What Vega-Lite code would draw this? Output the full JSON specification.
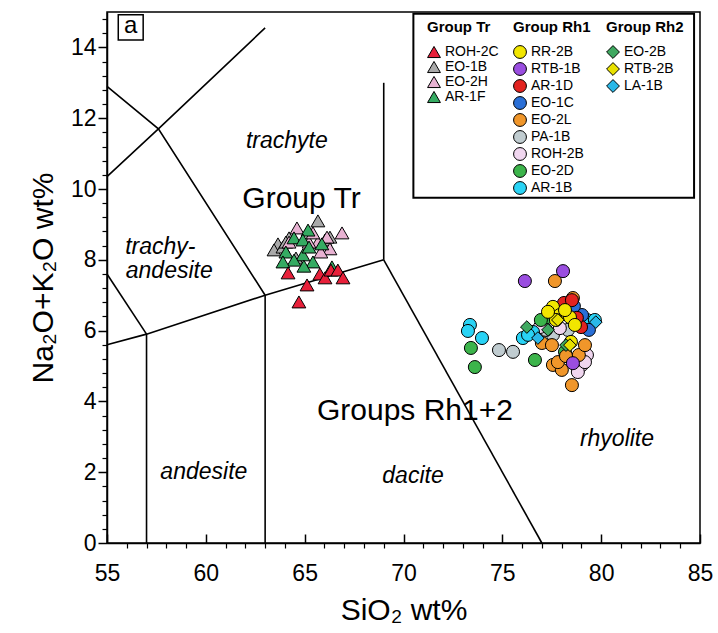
{
  "$schema": "https://vega.github.io/schema/vega-lite/v6.json",
  "width": 593,
  "height": 531,
  "autosize": {"type": "none"},
  "padding": {"left": 107, "top": 12, "right": 18, "bottom": 90},
  "background": "white",
  "config": {
    "view": {"stroke": "black", "strokeWidth": 1.5},
    "font": "Liberation Sans",
    "axis": {
      "labelFont": "Liberation Sans",
      "titleFont": "Liberation Sans",
      "labelColor": "black",
      "titleColor": "black",
      "tickColor": "black",
      "domainColor": "black",
      "grid": false,
      "labelFlush": false,
      "titleFontWeight": "normal"
    },
    "legend": {
      "titleFont": "Liberation Sans",
      "labelFont": "Liberation Sans",
      "titleFontSize": 15,
      "titleFontWeight": "bold",
      "titleColor": "black",
      "labelFontSize": 14,
      "labelColor": "black",
      "symbolSize": 165,
      "symbolStrokeColor": "black",
      "symbolStrokeWidth": 1,
      "symbolOpacity": 1,
      "titlePadding": 10,
      "labelOffset": 4,
      "padding": 0
    }
  },
  "datasets": {
    "boundaries": [
      {"seg": "s1", "i": 1, "sio2": 55, "alk": 5.6},
      {"seg": "s1", "i": 2, "sio2": 57, "alk": 5.9},
      {"seg": "s1", "i": 3, "sio2": 63, "alk": 7},
      {"seg": "s1", "i": 4, "sio2": 69, "alk": 8},
      {"seg": "s2", "i": 1, "sio2": 57, "alk": 0},
      {"seg": "s2", "i": 2, "sio2": 57, "alk": 5.9},
      {"seg": "s3", "i": 1, "sio2": 63, "alk": 0},
      {"seg": "s3", "i": 2, "sio2": 63, "alk": 7},
      {"seg": "s4", "i": 1, "sio2": 69, "alk": 8},
      {"seg": "s4", "i": 2, "sio2": 69, "alk": 13},
      {"seg": "s5", "i": 1, "sio2": 69, "alk": 8},
      {"seg": "s5", "i": 2, "sio2": 77, "alk": 0},
      {"seg": "s6", "i": 1, "sio2": 55, "alk": 7.6},
      {"seg": "s6", "i": 2, "sio2": 57, "alk": 5.9},
      {"seg": "s7", "i": 1, "sio2": 55, "alk": 12.9},
      {"seg": "s7", "i": 2, "sio2": 57.6, "alk": 11.7},
      {"seg": "s7", "i": 3, "sio2": 63, "alk": 7},
      {"seg": "s8", "i": 1, "sio2": 55, "alk": 10.35},
      {"seg": "s8", "i": 2, "sio2": 57.6, "alk": 11.7},
      {"seg": "s8", "i": 3, "sio2": 63, "alk": 14.55}
    ],
    "fieldNames": [
      {"name": "trachyte", "sio2": 64.1, "alk": 11.37},
      {"name": "trachy-", "sio2": 57.7, "alk": 8.35},
      {"name": "andesite", "sio2": 58.15, "alk": 7.69},
      {"name": "andesite", "sio2": 59.9, "alk": 2.0},
      {"name": "dacite", "sio2": 70.48, "alk": 1.89},
      {"name": "rhyolite", "sio2": 80.8, "alk": 2.93}
    ],
    "groupNames": [
      {"name": "Group Tr", "sio2": 64.84, "alk": 9.72},
      {"name": "Groups Rh1+2", "sio2": 70.58, "alk": 3.74}
    ],
    "groupTr": [
      {"sample": "EO-1B", "sio2": 65.67, "alk": 9.1},
      {"sample": "EO-1B", "sio2": 63.65, "alk": 8.45},
      {"sample": "EO-1B", "sio2": 63.45, "alk": 8.28},
      {"sample": "EO-1B", "sio2": 64.21, "alk": 8.62},
      {"sample": "EO-1B", "sio2": 63.9, "alk": 8.36},
      {"sample": "EO-1B", "sio2": 64.56, "alk": 8.05},
      {"sample": "EO-1B", "sio2": 66.03, "alk": 8.56},
      {"sample": "EO-1B", "sio2": 66.28, "alk": 8.64},
      {"sample": "EO-1B", "sio2": 64.05, "alk": 8.5},
      {"sample": "EO-2H", "sio2": 64.61, "alk": 8.9},
      {"sample": "EO-2H", "sio2": 66.89, "alk": 8.76},
      {"sample": "EO-2H", "sio2": 66.13, "alk": 8.64},
      {"sample": "EO-2H", "sio2": 65.67, "alk": 8.5},
      {"sample": "EO-2H", "sio2": 66.28, "alk": 8.31},
      {"sample": "EO-2H", "sio2": 64.21, "alk": 8.5},
      {"sample": "EO-2H", "sio2": 65.82, "alk": 8.22},
      {"sample": "EO-2H", "sio2": 65.22, "alk": 8.5},
      {"sample": "EO-2H", "sio2": 65.42, "alk": 8.76},
      {"sample": "AR-1F", "sio2": 65.17, "alk": 8.84},
      {"sample": "AR-1F", "sio2": 64.46, "alk": 8.62},
      {"sample": "AR-1F", "sio2": 64.91, "alk": 8.56},
      {"sample": "AR-1F", "sio2": 64.05, "alk": 8.22},
      {"sample": "AR-1F", "sio2": 64.91, "alk": 8.14},
      {"sample": "AR-1F", "sio2": 64.46, "alk": 7.99},
      {"sample": "AR-1F", "sio2": 63.9, "alk": 7.94},
      {"sample": "AR-1F", "sio2": 65.42, "alk": 7.94},
      {"sample": "AR-1F", "sio2": 64.96, "alk": 7.82},
      {"sample": "AR-1F", "sio2": 66.38, "alk": 7.8},
      {"sample": "AR-1F", "sio2": 65.87, "alk": 8.45},
      {"sample": "AR-1F", "sio2": 65.22, "alk": 8.36},
      {"sample": "ROH-2C", "sio2": 64.16, "alk": 7.63},
      {"sample": "ROH-2C", "sio2": 65.12, "alk": 7.29},
      {"sample": "ROH-2C", "sio2": 64.71, "alk": 6.81},
      {"sample": "ROH-2C", "sio2": 65.77, "alk": 7.6},
      {"sample": "ROH-2C", "sio2": 66.03, "alk": 7.49},
      {"sample": "ROH-2C", "sio2": 66.33, "alk": 7.71},
      {"sample": "ROH-2C", "sio2": 66.68, "alk": 7.71},
      {"sample": "ROH-2C", "sio2": 66.94, "alk": 7.49}
    ],
    "groupRh1": [
      {"sample": "PA-1B", "sio2": 74.83, "alk": 5.45},
      {"sample": "PA-1B", "sio2": 75.54, "alk": 5.4},
      {"sample": "PA-1B", "sio2": 76.95, "alk": 6.13},
      {"sample": "PA-1B", "sio2": 77.56, "alk": 5.88},
      {"sample": "PA-1B", "sio2": 78.32, "alk": 6.02},
      {"sample": "PA-1B", "sio2": 77.21, "alk": 6.02},
      {"sample": "ROH-2B", "sio2": 79.28, "alk": 5.31},
      {"sample": "ROH-2B", "sio2": 79.03, "alk": 5.03},
      {"sample": "ROH-2B", "sio2": 78.82, "alk": 4.83},
      {"sample": "ROH-2B", "sio2": 79.18, "alk": 5.11},
      {"sample": "ROH-2B", "sio2": 77.91, "alk": 6.07},
      {"sample": "ROH-2B", "sio2": 76.9, "alk": 6.1},
      {"sample": "EO-2D", "sio2": 73.41, "alk": 5.51},
      {"sample": "EO-2D", "sio2": 73.61, "alk": 4.97},
      {"sample": "EO-2D", "sio2": 76.65, "alk": 5.17},
      {"sample": "EO-2D", "sio2": 78.17, "alk": 5.4},
      {"sample": "EO-2D", "sio2": 77.26, "alk": 6.38},
      {"sample": "EO-2D", "sio2": 76.95, "alk": 6.3},
      {"sample": "AR-1B", "sio2": 73.36, "alk": 6.16},
      {"sample": "AR-1B", "sio2": 73.26, "alk": 5.99},
      {"sample": "AR-1B", "sio2": 73.97, "alk": 5.79},
      {"sample": "AR-1B", "sio2": 76.04, "alk": 5.79},
      {"sample": "AR-1B", "sio2": 76.55, "alk": 5.96},
      {"sample": "AR-1B", "sio2": 79.28, "alk": 6.3},
      {"sample": "AR-1B", "sio2": 79.68, "alk": 6.3},
      {"sample": "AR-1B", "sio2": 76.3, "alk": 5.88},
      {"sample": "EO-2L", "sio2": 77.66, "alk": 7.4},
      {"sample": "EO-2L", "sio2": 78.57, "alk": 6.92},
      {"sample": "EO-2L", "sio2": 77.0, "alk": 5.65},
      {"sample": "EO-2L", "sio2": 77.51, "alk": 5.59},
      {"sample": "EO-2L", "sio2": 78.87, "alk": 5.31},
      {"sample": "EO-2L", "sio2": 77.56, "alk": 5.03},
      {"sample": "EO-2L", "sio2": 78.01, "alk": 4.89},
      {"sample": "EO-2L", "sio2": 77.81, "alk": 5.11},
      {"sample": "EO-2L", "sio2": 78.52, "alk": 4.46},
      {"sample": "EO-2L", "sio2": 78.22, "alk": 5.28},
      {"sample": "EO-2L", "sio2": 79.18, "alk": 5.59},
      {"sample": "RTB-1B", "sio2": 76.14, "alk": 7.4},
      {"sample": "RTB-1B", "sio2": 78.07, "alk": 7.68},
      {"sample": "RTB-1B", "sio2": 78.57, "alk": 5.08},
      {"sample": "EO-1C", "sio2": 79.03, "alk": 6.44},
      {"sample": "EO-1C", "sio2": 78.62, "alk": 6.69},
      {"sample": "EO-1C", "sio2": 79.38, "alk": 6.02},
      {"sample": "AR-1D", "sio2": 78.12, "alk": 6.78},
      {"sample": "AR-1D", "sio2": 78.98, "alk": 6.1},
      {"sample": "AR-1D", "sio2": 78.52, "alk": 6.86},
      {"sample": "AR-1D", "sio2": 78.77, "alk": 6.36},
      {"sample": "RR-2B", "sio2": 77.56, "alk": 6.67},
      {"sample": "RR-2B", "sio2": 77.91, "alk": 6.44},
      {"sample": "RR-2B", "sio2": 78.42, "alk": 6.38},
      {"sample": "RR-2B", "sio2": 77.71, "alk": 6.3},
      {"sample": "RR-2B", "sio2": 78.17, "alk": 6.58},
      {"sample": "RR-2B", "sio2": 78.47, "alk": 5.68},
      {"sample": "RR-2B", "sio2": 77.31, "alk": 6.53},
      {"sample": "RR-2B", "sio2": 78.67, "alk": 6.16}
    ],
    "groupRh2": [
      {"sample": "EO-2B", "sio2": 76.24, "alk": 6.1},
      {"sample": "EO-2B", "sio2": 77.31, "alk": 6.02},
      {"sample": "EO-2B", "sio2": 78.22, "alk": 5.59},
      {"sample": "RTB-2B", "sio2": 77.81, "alk": 6.3},
      {"sample": "RTB-2B", "sio2": 78.42, "alk": 5.59},
      {"sample": "LA-1B", "sio2": 79.73, "alk": 6.24},
      {"sample": "LA-1B", "sio2": 76.8, "alk": 5.79}
    ]
  },
  "layer": [
    {
      "data": {"values": [{}]},
      "mark": {"type": "rect", "fill": "white", "stroke": "black", "strokeWidth": 2},
      "encoding": {
        "x": {"datum": 70.5, "type": "quantitative", "scale": {"domain": [55, 85], "nice": false, "zero": false}, "axis": null},
        "x2": {"datum": 84.7},
        "y": {"datum": 14.95, "type": "quantitative", "scale": {"domain": [0, 15], "nice": false, "zero": false}, "axis": null},
        "y2": {"datum": 9.75}
      }
    },
    {
      "data": {"values": [{}]},
      "mark": {"type": "rect", "fill": "white", "stroke": "black", "strokeWidth": 1.5},
      "encoding": {
        "x": {"datum": 55.57, "type": "quantitative", "scale": {"domain": [55, 85], "nice": false, "zero": false}, "axis": null},
        "x2": {"datum": 56.83},
        "y": {"datum": 14.92, "type": "quantitative", "scale": {"domain": [0, 15], "nice": false, "zero": false}, "axis": null},
        "y2": {"datum": 14.21}
      }
    },
    {
      "data": {"values": [{}]},
      "mark": {"type": "text", "fontSize": 24, "font": "Liberation Sans", "color": "black", "baseline": "middle", "align": "center"},
      "encoding": {
        "x": {"datum": 56.2, "type": "quantitative", "scale": {"domain": [55, 85], "nice": false, "zero": false}, "axis": null},
        "y": {"datum": 14.6, "type": "quantitative", "scale": {"domain": [0, 15], "nice": false, "zero": false}, "axis": null},
        "text": {"value": "a"}
      }
    },
    {
      "data": {"name": "boundaries"},
      "mark": {"type": "line", "color": "black", "strokeWidth": 1.6},
      "encoding": {
        "x": {
          "field": "sio2", "type": "quantitative",
          "scale": {"domain": [55, 85], "nice": false, "zero": false},
          "title": "SiO₂ wt%",
          "axis": {
            "orient": "bottom", "values": [55, 60, 65, 70, 75, 80, 85],
            "tickSize": -9, "tickWidth": 1.5, "domainWidth": 1.5,
            "labelFontSize": 23, "labelPadding": 28, "titleFontSize": 30, "titlePadding": 10
          }
        },
        "y": {
          "field": "alk", "type": "quantitative",
          "scale": {"domain": [0, 15], "nice": false, "zero": false},
          "title": "Na₂O+K₂O wt%",
          "axis": {
            "orient": "left", "values": [0, 2, 4, 6, 8, 10, 12, 14],
            "tickSize": 9, "tickWidth": 1.5, "domainWidth": 1.5,
            "labelFontSize": 23, "labelPadding": 2, "titleFontSize": 30, "titlePadding": 12
          }
        },
        "detail": {"field": "seg"},
        "order": {"field": "i"}
      }
    },
    {
      "data": {"name": "fieldNames"},
      "mark": {"type": "text", "fontSize": 23, "fontStyle": "italic", "font": "Liberation Sans", "color": "black", "baseline": "middle", "align": "center"},
      "encoding": {
        "x": {"field": "sio2", "type": "quantitative", "scale": {"domain": [55, 85], "nice": false, "zero": false}, "axis": null},
        "y": {"field": "alk", "type": "quantitative", "scale": {"domain": [0, 15], "nice": false, "zero": false}, "axis": null},
        "text": {"field": "name"}
      }
    },
    {
      "data": {"name": "groupNames"},
      "mark": {"type": "text", "fontSize": 30, "font": "Liberation Sans", "color": "black", "baseline": "middle", "align": "center"},
      "encoding": {
        "x": {"field": "sio2", "type": "quantitative", "scale": {"domain": [55, 85], "nice": false, "zero": false}, "axis": null},
        "y": {"field": "alk", "type": "quantitative", "scale": {"domain": [0, 15], "nice": false, "zero": false}, "axis": null},
        "text": {"field": "name"}
      }
    },
    {
      "data": {"name": "groupTr"},
      "mark": {"type": "point", "shape": "triangle-up", "filled": true, "stroke": "black", "strokeWidth": 1, "size": 190, "opacity": 1},
      "encoding": {
        "x": {
          "field": "sio2", "type": "quantitative",
          "scale": {"domain": [55, 85], "nice": false, "zero": false},
          "axis": {
            "orient": "bottom", "title": null, "labels": false, "domain": false,
            "values": [56, 57, 58, 59, 61, 62, 63, 64, 66, 67, 68, 69, 71, 72, 73, 74, 76, 77, 78, 79, 81, 82, 83, 84],
            "tickSize": 5, "tickWidth": 1.2
          }
        },
        "y": {
          "field": "alk", "type": "quantitative",
          "scale": {"domain": [0, 15], "nice": false, "zero": false},
          "axis": {
            "orient": "left", "title": null, "labels": false, "domain": false,
            "values": [0.4, 0.8, 1.2, 1.6, 2.4, 2.8, 3.2, 3.6, 4.4, 4.8, 5.2, 5.6, 6.4, 6.8, 7.2, 7.6, 8.4, 8.8, 9.2, 9.6, 10.4, 10.8, 11.2, 11.6, 12.4, 12.8, 13.2, 13.6, 14.4, 14.8],
            "tickSize": 5, "tickWidth": 1.2
          }
        },
        "color": {
          "field": "sample", "type": "nominal",
          "scale": {"domain": ["ROH-2C", "EO-1B", "EO-2H", "AR-1F"], "range": ["#e8203a", "#a9a9a9", "#e8b2d2", "#35ab62"]},
          "legend": {
            "title": "Group Tr", "orient": "none", "legendX": 320, "legendY": 8, "symbolType": "triangle-up", "rowPadding": -1,
            "encode": {"symbols": {"update": {"stroke": {"value": "black"}, "strokeWidth": {"value": 1}}}}
          }
        }
      }
    },
    {
      "data": {"name": "groupRh1"},
      "mark": {"type": "point", "shape": "circle", "filled": true, "stroke": "black", "strokeWidth": 1, "size": 170, "opacity": 1},
      "encoding": {
        "x": {"field": "sio2", "type": "quantitative", "scale": {"domain": [55, 85], "nice": false, "zero": false}, "axis": null},
        "y": {"field": "alk", "type": "quantitative", "scale": {"domain": [0, 15], "nice": false, "zero": false}, "axis": null},
        "color": {
          "field": "sample", "type": "nominal",
          "scale": {
            "domain": ["RR-2B", "RTB-1B", "AR-1D", "EO-1C", "EO-2L", "PA-1B", "ROH-2B", "EO-2D", "AR-1B"],
            "range": ["#f2e600", "#9a4ee0", "#e32320", "#2a6fd6", "#f0962a", "#c0ccd0", "#f0d6ef", "#3cb44b", "#29d3f5"]
          },
          "legend": {
            "title": "Group Rh1", "orient": "none", "legendX": 406, "legendY": 8, "symbolType": "circle", "rowPadding": -1,
            "encode": {"symbols": {"update": {"stroke": {"value": "black"}, "strokeWidth": {"value": 1}}}}
          }
        }
      }
    },
    {
      "data": {"name": "groupRh2"},
      "mark": {"type": "point", "shape": "diamond", "filled": true, "stroke": "black", "strokeWidth": 1, "size": 160, "opacity": 1},
      "encoding": {
        "x": {"field": "sio2", "type": "quantitative", "scale": {"domain": [55, 85], "nice": false, "zero": false}, "axis": null},
        "y": {"field": "alk", "type": "quantitative", "scale": {"domain": [0, 15], "nice": false, "zero": false}, "axis": null},
        "color": {
          "field": "sample", "type": "nominal",
          "scale": {"domain": ["EO-2B", "RTB-2B", "LA-1B"], "range": ["#3fa860", "#e8e000", "#2ab8e8"]},
          "legend": {
            "title": "Group Rh2", "orient": "none", "legendX": 499, "legendY": 8, "symbolType": "diamond", "rowPadding": -1,
            "encode": {"symbols": {"update": {"stroke": {"value": "black"}, "strokeWidth": {"value": 1}}}}
          }
        }
      }
    }
  ],
  "resolve": {
    "scale": {"color": "independent"},
    "axis": {"x": "independent", "y": "independent"}
  }
}
